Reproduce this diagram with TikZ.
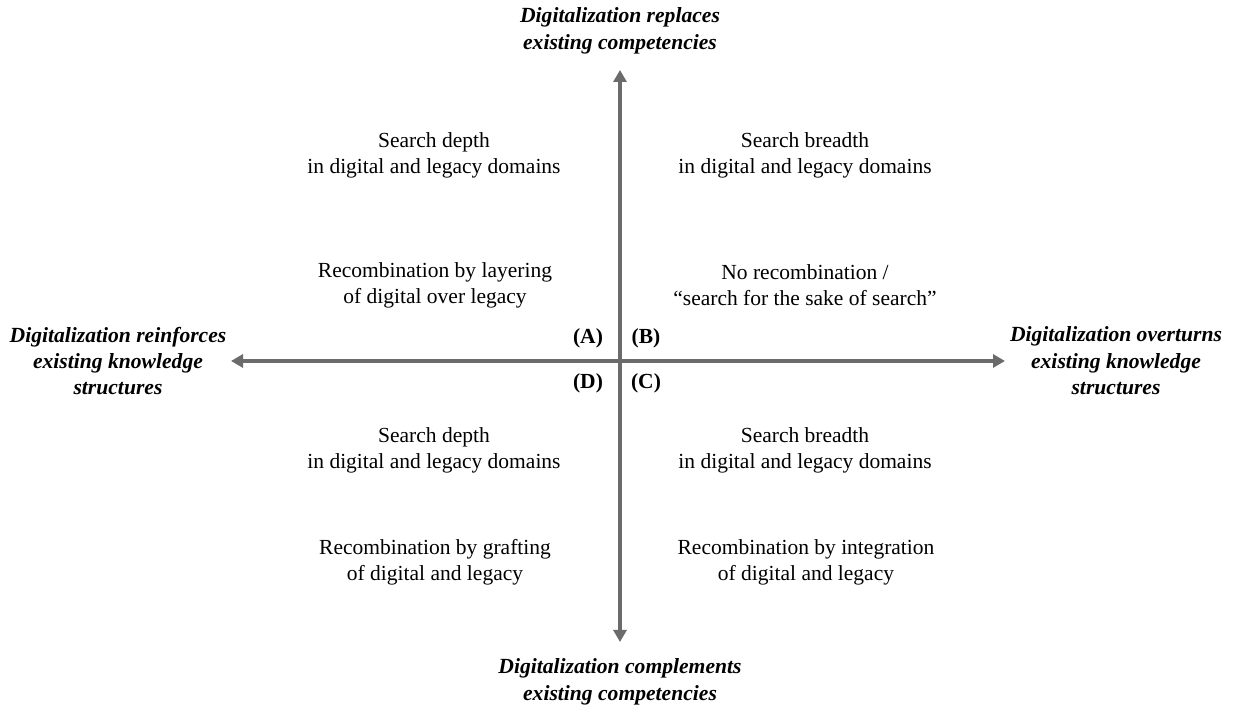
\documentclass[tikz,border=0pt]{standalone}
\usepackage{fontspec}
\setmainfont{Liberation Serif}
\usetikzlibrary{arrows.meta}
\definecolor{axisgray}{HTML}{6B6B6B}
\tikzset{
  axis/.style={line width=2pt, color=axisgray, arrows={Triangle[width=6.5pt,length=6pt]-Triangle[width=6.5pt,length=6pt]}},
  pole/.style={align=center, font=\fontsize{10.8}{13.2}\selectfont\bfseries\itshape},
  quad/.style={align=center, font=\fontsize{10.75}{13}\selectfont},
  tag/.style={font=\fontsize{10.75}{13}\selectfont\bfseries}
}
\begin{document}
\begin{tikzpicture}[x=0.5pt,y=-0.5pt]
\useasboundingbox (0,0) rectangle (1233,710);
\coordinate (top) at (620,70);
\coordinate (bottom) at (620,642);
\coordinate (left) at (231,361);
\coordinate (right) at (1005,361);
\draw[axis] (bottom) -- (top);
\draw[axis] (left) -- (right);

\node[pole] (replaces) at (620,31) {Digitalization replaces\\existing competencies};
\node[pole] (complements) at (620,682) {Digitalization complements\\existing competencies};
\node[pole] (reinforces) at (118,361) {Digitalization reinforces\\existing knowledge\\structures};
\node[pole] (overturns) at (1116,361) {Digitalization overturns\\existing knowledge\\structures};

\node[quad] (depthA) at (434,155) {Search depth\\in digital and legacy domains};
\node[quad] (layering) at (435,285) {Recombination by layering\\of digital over legacy};
\node[quad] (breadthB) at (805,155) {Search breadth\\in digital and legacy domains};
\node[quad] (norecomb) at (805,285) {No recombination /\\“search for the sake of search”};
\node[quad] (depthD) at (434,450) {Search depth\\in digital and legacy domains};
\node[quad] (grafting) at (435,562) {Recombination by grafting\\of digital and legacy};
\node[quad] (breadthC) at (805,450) {Search breadth\\in digital and legacy domains};
\node[quad] (integration) at (806,562) {Recombination by integration\\of digital and legacy};

\node[tag] (A) at (588,338) {(A)};
\node[tag] (B) at (646,338) {(B)};
\node[tag] (D) at (588,383) {(D)};
\node[tag] (C) at (646,383) {(C)};
\end{tikzpicture}
\end{document}
